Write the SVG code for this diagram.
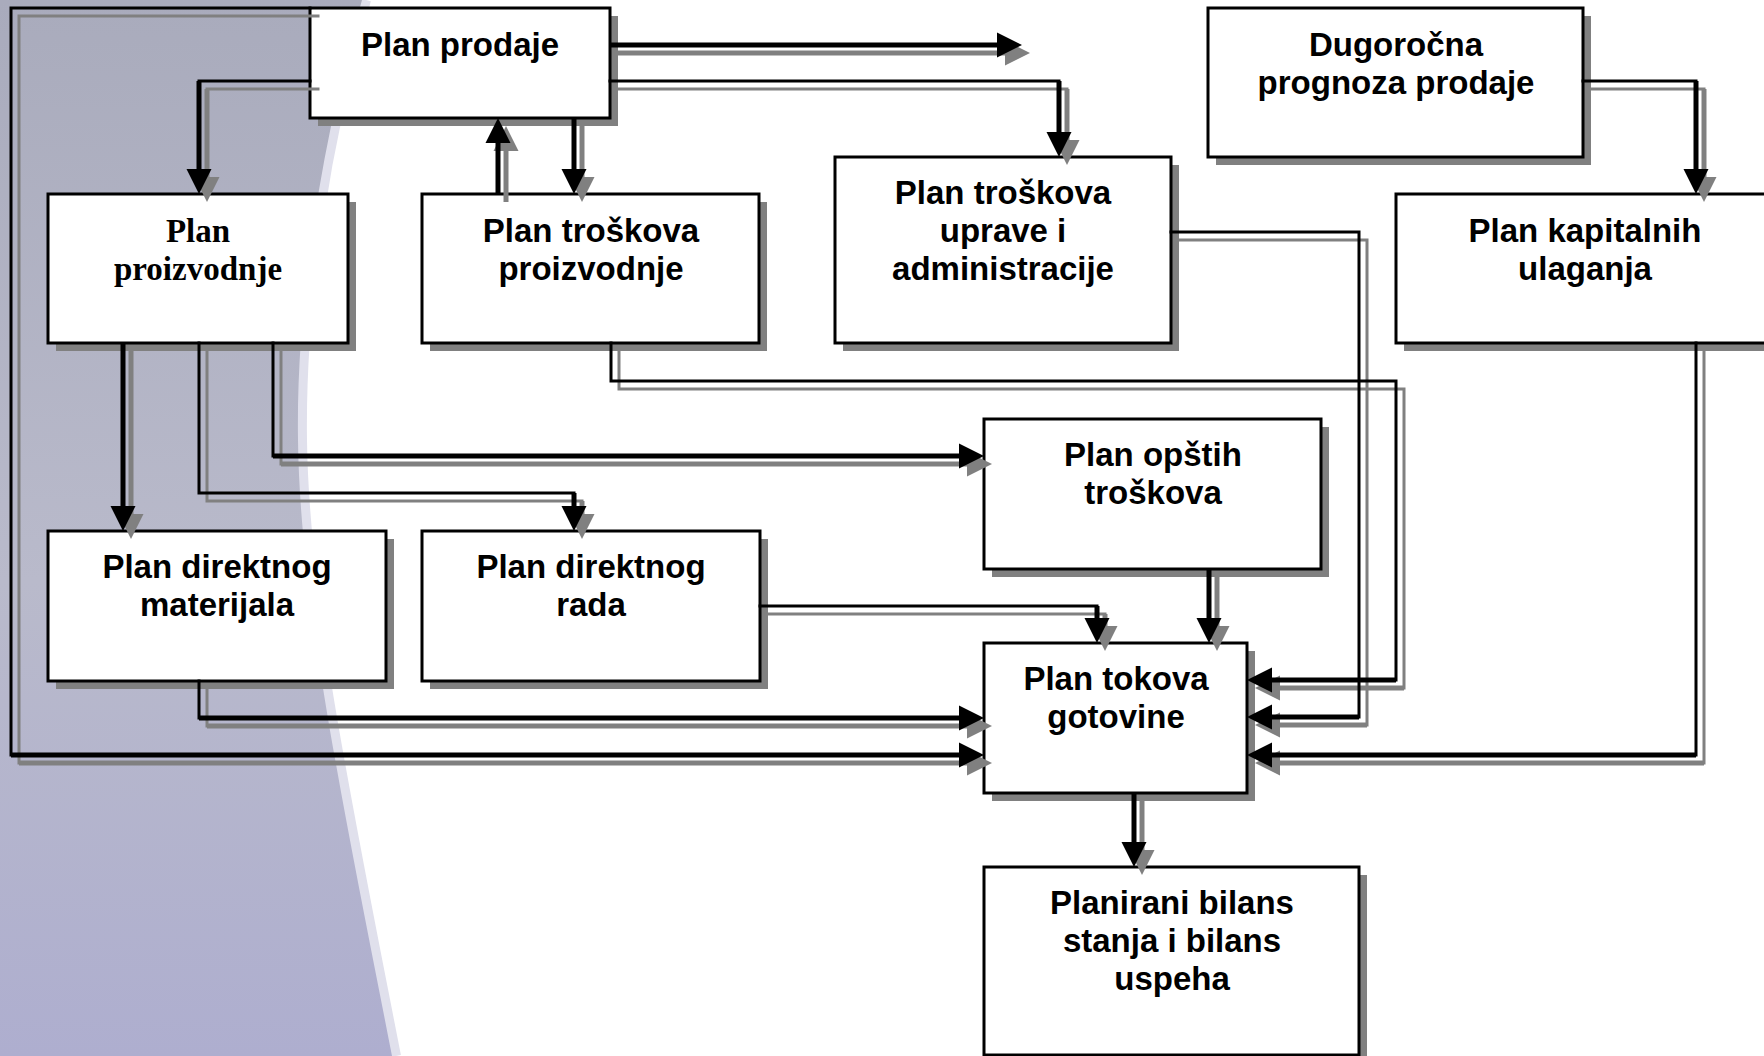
<svg xmlns="http://www.w3.org/2000/svg" xmlns:xlink="http://www.w3.org/1999/xlink" width="1764" height="1056" viewBox="0 0 1764 1056">
<style>
.sh{fill:#808080;stroke:none}
.box{fill:#ffffff;stroke:#000;stroke-width:3}
.t{font-family:"Liberation Sans",Arial,sans-serif;font-weight:bold;font-size:33px;text-anchor:middle;fill:#000}
.ts{font-family:"Liberation Serif","Times New Roman",serif;font-weight:bold;font-size:33px;text-anchor:middle;fill:#000}
.thin{fill:none;stroke:currentColor;stroke-width:3;stroke-linecap:square}
.thick{fill:none;stroke:currentColor;stroke-width:5;stroke-linecap:butt}
.ah{fill:currentColor;stroke:none}
.ink{color:#000}
.shadow{color:#808080}
</style>
<defs>
<linearGradient id="bg" x1="0" y1="0" x2="0" y2="1">
<stop offset="0" stop-color="#a9abbc"/>
<stop offset="0.55" stop-color="#b9bacb"/>
<stop offset="1" stop-color="#aeaecf"/>
</linearGradient>
<g id="c1"><path class="thin" d="M310,81 H199"/><path class="thick" d="M199,81 V172"/><polygon class="ah" points="186.5,169 211.5,169 199,194"/></g>
<g id="c2"><path class="thick" d="M610,45 H1000"/><polygon class="ah" points="997,32.5 997,57.5 1022,45"/></g>
<g id="c3"><path class="thin" d="M610,81 H1059"/><path class="thick" d="M1059,81 V135"/><polygon class="ah" points="1046.5,132 1071.5,132 1059,157"/></g>
<g id="c4"><path class="thick" d="M498,194 V140"/><polygon class="ah" points="485.5,143 510.5,143 498,118"/></g>
<g id="c5"><path class="thick" d="M574,118 V172"/><polygon class="ah" points="561.5,169 586.5,169 574,194"/></g>
<g id="c6"><path class="thick" d="M123,343 V509"/><polygon class="ah" points="110.5,506 135.5,506 123,531"/></g>
<g id="c7"><path class="thin" d="M199,343 V493 H574"/><path class="thick" d="M574,493 V509"/><polygon class="ah" points="561.5,506 586.5,506 574,531"/></g>
<g id="c8"><path class="thin" d="M273,343 V456"/><path class="thick" d="M273,456 H962"/><polygon class="ah" points="959,443.5 959,468.5 984,456"/></g>
<g id="c9"><path class="thin" d="M199,681 V718"/><path class="thick" d="M199,718 H962"/><polygon class="ah" points="959,705.5 959,730.5 984,718"/></g>
<g id="c10"><path class="thin" d="M310,8 H11 V755"/><path class="thick" d="M11,755 H962"/><polygon class="ah" points="959,742.5 959,767.5 984,755"/></g>
<g id="c11"><path class="thin" d="M760,606 H1097 V612"/><path class="thick" d="M1097,606 V621"/><polygon class="ah" points="1084.5,618 1109.5,618 1097,643"/></g>
<g id="c12"><path class="thick" d="M1209,569 V621"/><polygon class="ah" points="1196.5,618 1221.5,618 1209,643"/></g>
<g id="c13"><path class="thick" d="M1134,793 V845"/><polygon class="ah" points="1121.5,842 1146.5,842 1134,867"/></g>
<g id="c14"><path class="thin" d="M611,343 V381 H1396 V680"/><path class="thick" d="M1396,680 H1269"/><polygon class="ah" points="1272,667.5 1272,692.5 1247,680"/></g>
<g id="c15"><path class="thin" d="M1171,232 H1359 V717"/><path class="thick" d="M1359,717 H1269"/><polygon class="ah" points="1272,704.5 1272,729.5 1247,717"/></g>
<g id="c16"><path class="thin" d="M1696,343 V755"/><path class="thick" d="M1696,755 H1269"/><polygon class="ah" points="1272,742.5 1272,767.5 1247,755"/></g>
<g id="c17"><path class="thin" d="M1583,81 H1696"/><path class="thick" d="M1696,81 V172"/><polygon class="ah" points="1683.5,169 1708.5,169 1696,194"/></g>
</defs>

<g id="background">
<rect x="0" y="0" width="1764" height="1056" fill="#ffffff"/>
<path d="M362,0 C322,140 296,300 298,440 C300,600 342,800 392,1056" fill="none" stroke="#e0e0ec" stroke-width="10" transform="translate(4,0)"/>
<path d="M0,0 H362 C322,140 296,300 298,440 C300,600 342,800 392,1056 H0 Z" fill="url(#bg)"/>
</g>

<g id="node-plan-prodaje">
<rect class="sh" x="318" y="16" width="300" height="110"/>
<rect class="box" x="310" y="8" width="300" height="110"/>
<text class="t" x="460" y="56">Plan prodaje</text>
</g>
<g id="node-plan-proizvodnje">
<rect class="sh" x="56" y="202" width="300" height="149"/>
<rect class="box" x="48" y="194" width="300" height="149"/>
<text class="ts" x="198" y="242">Plan</text>
<text class="ts" x="198" y="280">proizvodnje</text>
</g>
<g id="node-plan-troskova-proizvodnje">
<rect class="sh" x="430" y="202" width="337" height="149"/>
<rect class="box" x="422" y="194" width="337" height="149"/>
<text class="t" x="591" y="242">Plan troškova</text>
<text class="t" x="591" y="280">proizvodnje</text>
</g>
<g id="node-plan-troskova-uprave">
<rect class="sh" x="843" y="165" width="336" height="186"/>
<rect class="box" x="835" y="157" width="336" height="186"/>
<text class="t" x="1003" y="204">Plan troškova</text>
<text class="t" x="1003" y="242">uprave i</text>
<text class="t" x="1003" y="280">administracije</text>
</g>
<g id="node-dugorocna-prognoza">
<rect class="sh" x="1216" y="16" width="375" height="149"/>
<rect class="box" x="1208" y="8" width="375" height="149"/>
<text class="t" x="1396" y="56">Dugoročna</text>
<text class="t" x="1396" y="94">prognoza prodaje</text>
</g>
<g id="node-plan-kapitalnih">
<rect class="sh" x="1404" y="202" width="377" height="149"/>
<rect class="box" x="1396" y="194" width="377" height="149"/>
<text class="t" x="1585" y="242">Plan kapitalnih</text>
<text class="t" x="1585" y="280">ulaganja</text>
</g>
<g id="node-plan-opstih">
<rect class="sh" x="992" y="427" width="337" height="150"/>
<rect class="box" x="984" y="419" width="337" height="150"/>
<text class="t" x="1153" y="466">Plan opštih</text>
<text class="t" x="1153" y="504">troškova</text>
</g>
<g id="node-plan-materijala">
<rect class="sh" x="56" y="539" width="338" height="150"/>
<rect class="box" x="48" y="531" width="338" height="150"/>
<text class="t" x="217" y="578">Plan direktnog</text>
<text class="t" x="217" y="616">materijala</text>
</g>
<g id="node-plan-rada">
<rect class="sh" x="430" y="539" width="338" height="150"/>
<rect class="box" x="422" y="531" width="338" height="150"/>
<text class="t" x="591" y="578">Plan direktnog</text>
<text class="t" x="591" y="616">rada</text>
</g>
<g id="node-plan-tokova">
<rect class="sh" x="992" y="651" width="263" height="150"/>
<rect class="box" x="984" y="643" width="263" height="150"/>
<text class="t" x="1116" y="690">Plan tokova</text>
<text class="t" x="1116" y="728">gotovine</text>
</g>
<g id="node-planirani-bilans">
<rect class="sh" x="992" y="875" width="375" height="190"/>
<rect class="box" x="984" y="867" width="375" height="188"/>
<text class="t" x="1172" y="914">Planirani bilans</text>
<text class="t" x="1172" y="952">stanja i bilans</text>
<text class="t" x="1172" y="990">uspeha</text>
</g>

<g id="connectors">
<g class="shadow" transform="translate(8,8)">
<use xlink:href="#c1"/><use xlink:href="#c2"/><use xlink:href="#c3"/><use xlink:href="#c4"/><use xlink:href="#c5"/><use xlink:href="#c6"/><use xlink:href="#c7"/><use xlink:href="#c8"/><use xlink:href="#c9"/><use xlink:href="#c10"/><use xlink:href="#c11"/><use xlink:href="#c12"/><use xlink:href="#c13"/><use xlink:href="#c14"/><use xlink:href="#c15"/><use xlink:href="#c16"/><use xlink:href="#c17"/>
</g>
<g class="ink">
<use xlink:href="#c1"/><use xlink:href="#c2"/><use xlink:href="#c3"/><use xlink:href="#c4"/><use xlink:href="#c5"/><use xlink:href="#c6"/><use xlink:href="#c7"/><use xlink:href="#c8"/><use xlink:href="#c9"/><use xlink:href="#c10"/><use xlink:href="#c11"/><use xlink:href="#c12"/><use xlink:href="#c13"/><use xlink:href="#c14"/><use xlink:href="#c15"/><use xlink:href="#c16"/><use xlink:href="#c17"/>
</g>
</g>
</svg>
